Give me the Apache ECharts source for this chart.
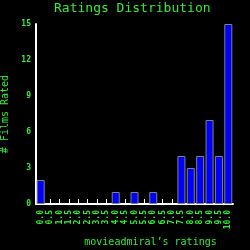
<!DOCTYPE html>
<html>
<head>
<meta charset="utf-8">
<script src="https://cdn.jsdelivr.net/npm/echarts@6/dist/echarts.min.js"></script>
<style>
html,body{margin:0;padding:0;background:#000;}
#chart{width:250px;height:250px;}
</style>
</head>
<body>
<div id="chart"></div>
<script>
// ratings 0.0 .. 10.0 step 0.5
const ratings = ['0.0','0.5','1.0','1.5','2.0','2.5','3.0','3.5','4.0','4.5','5.0',
    '5.5','6.0','6.5','7.0','7.5','8.0','8.5','9.0','9.5','10.0'];
const filmCounts = [2,0,0,0,0,0,0,0,1,0,1,0,1,0,0,4,3,4,7,4,15];
const yTicks = [0,3,6,9,12,15];

const green = '#33ee33';
const mono = 'DejaVu Sans Mono';
const plotWidth = 250 - 36 - 17;

let option = {
    backgroundColor:'#000',
    animation:false,
    title:{
        text:'Ratings Distribution',
        left:54,
        top:2,
        padding:0,
        textStyle:{
            color:green,
            fontFamily:mono,
            fontWeight:'normal',
            fontSize:13
        }
    },
    grid:{
        left:36,
        right:17,
        top:24,
        bottom:46,
        outerBoundsMode:'none'
    },
    xAxis:{
        type:'category',
        data:ratings,
        name:'movieadmiral’s ratings',
        nameLocation:'middle',
        nameGap:33,
        nameTextStyle:{
            color:green,
            fontFamily:mono,
            fontSize:10,
            padding:[0,0,0,32]
        },
        axisLine:{lineStyle:{color:'#fff',width:2}},
        axisTick:{
            show:true,
            alignWithLabel:true,
            inside:true,
            length:5,
            lineStyle:{color:'#ffffff',width:1}
        },
        axisLabel:{
            rotate:90,
            interval:0,
            margin:6,
            color:green,
            fontFamily:mono,
            fontWeight:'bold',
            fontSize:8
        }
    },
    yAxis:[{
        type:'value',
        min:yTicks[0],
        max:yTicks[yTicks.length-1],
        interval:3,
        name:'# Films Rated',
        nameLocation:'middle',
        nameGap:24,
        nameTextStyle:{
            color:green,
            fontFamily:mono,
            fontSize:10
        },
        axisLine:{show:true,lineStyle:{color:'#fff',width:2}},
        axisTick:{show:false},
        splitLine:{show:false},
        axisLabel:{
            margin:5,
            color:green,
            fontFamily:mono,
            fontWeight:'bold',
            fontSize:8
        }
    },{
        // right-side axis moved onto the left edge, only for the inward ticks
        type:'value',
        position:'right',
        offset:plotWidth,
        min:yTicks[0],
        max:yTicks[yTicks.length-1],
        interval:3,
        axisLine:{show:false},
        axisTick:{
            show:true,
            length:6,
            lineStyle:{color:'#ffffff',width:1}
        },
        axisLabel:{show:false},
        splitLine:{show:false}
    }],
    series:[{
        type:'bar',
        barWidth:8,
        data:filmCounts.map(v=>v===0 ? null : v),
        itemStyle:{
            color:'#0000ff',
            borderColor:'#808080',
            borderWidth:1
        }
    }]
};

echarts.init(document.getElementById('chart')).setOption(option);
</script>
</body>
</html>
